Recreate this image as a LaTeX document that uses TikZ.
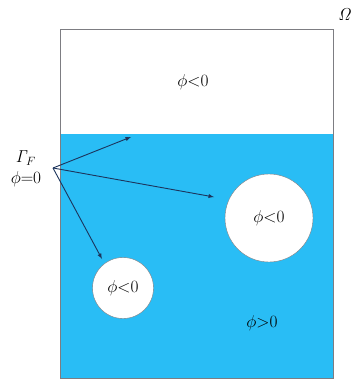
\documentclass[tikz,border=0pt]{standalone}
\usepackage{amsmath}
\usepackage{xcolor}
\usepackage{tikz}
\definecolor{fluid}{RGB}{41,189,245}
\definecolor{edgegray}{RGB}{125,125,130}
\definecolor{arrownavy}{RGB}{28,52,92}

\begin{document}
\begin{tikzpicture}[x=1pt,y=-1pt,
        every node/.style={font=\fontsize{17}{20}\selectfont},
        bubble/.style={circle, draw=edgegray, fill=white, inner sep=0pt},
        normal/.style={-latex, arrownavy, line width=0.9pt}]
        \useasboundingbox (0,0) rectangle (353,383);
        % Fase liquida (phi>0) y contorno del dominio
        \fill[fluid] (60,134) rectangle (333,378);
        \draw[edgegray, line width=0.8pt] (60,29) rectangle (333,378);
        % Burbujas de aire
        \node[bubble, minimum size=88pt] (bigBubble) at (269,218) {$\phi{<}0$};
        \node[bubble, minimum size=61pt] (smallBubble) at (123,288) {$\phi{<}0$};
        % Etiquetas de las fases
        \node (airTop) at (193,82) {$\phi{<}0$};
        \node (liquid) at (262,323) {$\phi{>}0$};
        \node (omega) at (345,15) {$\mathit{\Omega}$};
        % Interfaz Gamma_F
        \node[align=left, inner sep=1pt] (gammaF) at (26,169)
            {\;$\mathit{\Gamma}_{F}$\\[1pt]$\phi{=}0$};
        \coordinate (src) at (53,168);
        \coordinate (tipTop) at (131,137);
        \coordinate (tipBig) at (214,197);
        \coordinate (tipSmall) at (102,259);
        \draw[normal] (src) -- (tipTop);
        \draw[normal] (src) -- (tipBig);
        \draw[normal] (src) -- (tipSmall);
    \end{tikzpicture}
\end{document}
